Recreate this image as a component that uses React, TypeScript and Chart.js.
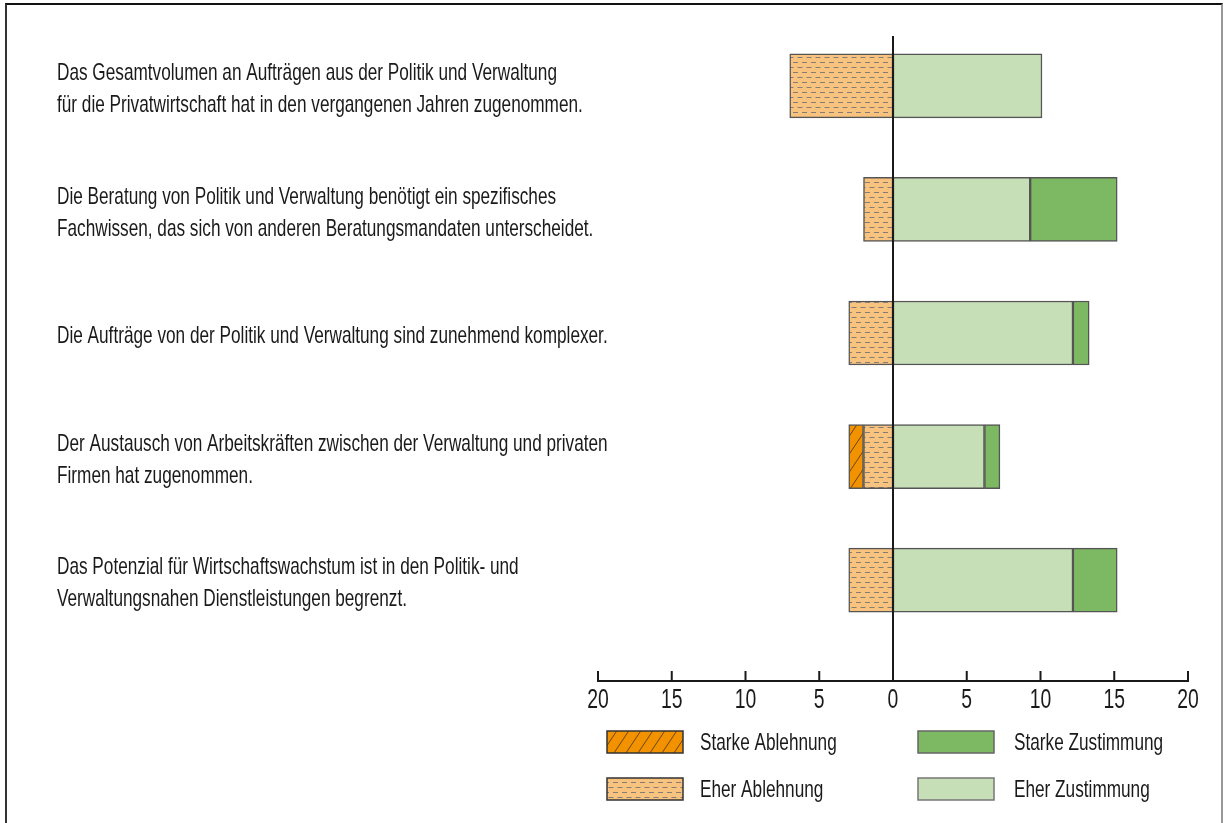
import React, { useEffect, useRef } from "react";
import { Chart, registerables } from "chart.js";

Chart.register(...registerables);

const statements: string[][] = [
  ["Das Gesamtvolumen an Aufträgen aus der Politik und Verwaltung", "für die Privatwirtschaft hat in den vergangenen Jahren zugenommen."],
  ["Die Beratung von Politik und Verwaltung benötigt ein spezifisches", "Fachwissen, das sich von anderen Beratungsmandaten unterscheidet."],
  ["Die Aufträge von der Politik und Verwaltung sind zunehmend komplexer."],
  ["Der Austausch von Arbeitskräften zwischen der Verwaltung und privaten", "Firmen hat zugenommen."],
  ["Das Potenzial für Wirtschaftswachstum ist in den Politik- und", "Verwaltungsnahen Dienstleistungen begrenzt."],
];

const starkeAblehnung = [0, 0, 0, 1, 0];
const eherAblehnung = [7, 2, 3, 2, 3];
const eherZustimmung = [10.1, 9.3, 12.2, 6.2, 12.2];
const starkeZustimmung = [0, 5.9, 1.1, 1.05, 3];

const legendLabels = ["Starke Ablehnung", "Starke Zustimmung", "Eher Ablehnung", "Eher Zustimmung"];

const axisMin = -20;
const axisMax = 20;
const axisStep = 5;

const FONT = "'Liberation Sans', Arial, sans-serif";

function dashPattern(): CanvasPattern {
  const c = document.createElement("canvas");
  c.width = 9;
  c.height = 10;
  const g = c.getContext("2d")!;
  g.fillStyle = "#F8C27F";
  g.fillRect(0, 0, 9, 10);
  g.strokeStyle = "#857c72";
  g.lineWidth = 1;
  g.beginPath();
  g.moveTo(1, 2.5);
  g.lineTo(6, 2.5);
  g.moveTo(5.5, 7.5);
  g.lineTo(9, 7.5);
  g.moveTo(0, 7.5);
  g.lineTo(1.5, 7.5);
  g.stroke();
  return g.createPattern(c, "repeat")!;
}

function hatchPattern(): CanvasPattern {
  const w = 12;
  const h = 18;
  const c = document.createElement("canvas");
  c.width = w;
  c.height = h;
  const g = c.getContext("2d")!;
  g.fillStyle = "#F39200";
  g.fillRect(0, 0, w, h);
  g.strokeStyle = "#6a4512";
  g.lineWidth = 1;
  g.beginPath();
  g.moveTo(0, h);
  g.lineTo(w, 0);
  g.moveTo(-w, h);
  g.lineTo(0, 0);
  g.moveTo(w, h);
  g.lineTo(2 * w, 0);
  g.stroke();
  return g.createPattern(c, "repeat")!;
}

export default function App() {
  const ref = useRef<HTMLCanvasElement>(null);

  useEffect(() => {
    const dash = dashPattern();
    const hatch = hatchPattern();
    const starkeGreen = "#7CB962";
    const eherGreen = "#C7DFB6";
    const textColor = "#1a1a1a";

    // horizontal condensing factor so the sans face looks like the narrow original
    const probe = document.createElement("canvas").getContext("2d")!;
    probe.font = `24px ${FONT}`;
    const SX = 500 / probe.measureText(statements[0][0]).width;

    const drawText = (ctx: CanvasRenderingContext2D, text: string, x: number, y: number, size: number, align: CanvasTextAlign) => {
      ctx.save();
      ctx.font = `${size}px ${FONT}`;
      ctx.fillStyle = textColor;
      ctx.textAlign = align;
      ctx.textBaseline = "middle";
      ctx.translate(x, y);
      ctx.scale(SX, 1);
      ctx.fillText(text, 0, 0);
      ctx.restore();
    };

    const customPlugin = {
      id: "customAxisLegend",
      afterDatasetsDraw(chart: any) {
        const { ctx, chartArea } = chart;
        const x = chart.scales.x;
        const y = chart.scales.y;
        const axisY = chartArea.bottom + 39;
        ctx.save();
        ctx.strokeStyle = "#1a1a1a";
        ctx.lineWidth = 2;
        const x0 = x.getPixelForValue(0);
        ctx.beginPath();
        ctx.moveTo(x0, chartArea.top + 12);
        ctx.lineTo(x0, axisY);
        ctx.stroke();
        ctx.beginPath();
        ctx.moveTo(x.getPixelForValue(axisMin) - 1, axisY);
        ctx.lineTo(x.getPixelForValue(axisMax) + 1, axisY);
        x.ticks.forEach((t: any) => {
          const px = x.getPixelForValue(t.value);
          ctx.moveTo(px, axisY);
          ctx.lineTo(px, axisY - 10);
        });
        ctx.stroke();
        ctx.restore();

        // x tick labels
        x.ticks.forEach((t: any) => {
          const px = x.getPixelForValue(t.value);
          drawText(ctx, String(Math.abs(t.value)), px, axisY + 20, 27, "center");
        });

        // category labels (left-aligned block)
        const labelLeft = y.left;
        statements.forEach((lines, i) => {
          const cy = y.getPixelForValue(i) + 3.5;
          lines.forEach((line, k) => {
            drawText(ctx, line, labelLeft, cy + (k - (lines.length - 1) / 2) * 32, 24, "left");
          });
        });

        // legend
        const leftCol = x.getPixelForValue(-20) + 9;
        const rightCol = x0 + 25;
        const items = [
          { label: legendLabels[0], fill: hatch, border: "#333", bx: leftCol, by: axisY + 50, tx: 93 },
          { label: legendLabels[1], fill: starkeGreen, border: "#666", bx: rightCol, by: axisY + 50, tx: 96 },
          { label: legendLabels[2], fill: dash, border: "#333", bx: leftCol, by: axisY + 97, tx: 93 },
          { label: legendLabels[3], fill: eherGreen, border: "#777", bx: rightCol, by: axisY + 97, tx: 96 },
        ];
        items.forEach((it) => {
          ctx.save();
          ctx.fillStyle = it.fill as any;
          ctx.fillRect(it.bx, it.by, 76, 22);
          ctx.strokeStyle = it.border;
          ctx.lineWidth = 1.5;
          ctx.strokeRect(it.bx, it.by, 76, 22);
          ctx.restore();
          drawText(ctx, it.label, it.bx + it.tx, it.by + 12, 24, "left");
        });
      },
    };

    const common = {
      borderColor: "#555555",
      borderWidth: 1.5,
      borderSkipped: false,
      barThickness: 64,
      stack: "s",
    };

    const chart = new Chart(ref.current!, {
      type: "bar",
      data: {
        labels: statements,
        datasets: [
          { label: "Eher Ablehnung", data: eherAblehnung.map((v) => -v), backgroundColor: dash, ...common },
          { label: "Starke Ablehnung", data: starkeAblehnung.map((v) => -v), backgroundColor: hatch, ...common },
          { label: "Eher Zustimmung", data: eherZustimmung, backgroundColor: eherGreen, ...common },
          { label: "Starke Zustimmung", data: starkeZustimmung, backgroundColor: starkeGreen, ...common },
        ] as any,
      },
      options: {
        indexAxis: "y",
        animation: false,
        responsive: false,
        maintainAspectRatio: false,
        layout: { padding: { left: 57, top: 24, right: 36, bottom: 0 } },
        plugins: {
          legend: { display: false },
          tooltip: { enabled: false },
          title: { display: false },
        },
        scales: {
          x: {
            type: "linear",
            min: axisMin,
            max: axisMax,
            stacked: true,
            grid: { display: false, drawTicks: false },
            border: { display: false },
            afterFit: (s: any) => {
              s.height = 181;
            },
            ticks: { stepSize: axisStep, display: false },
          },
          y: {
            type: "category",
            stacked: true,
            grid: { display: false, drawTicks: false },
            border: { display: false },
            afterFit: (s: any) => {
              s.width = 541;
            },
            ticks: { display: false },
          },
        },
      } as any,
      plugins: [customPlugin],
    });
    return () => chart.destroy();
  }, []);

  return (
    <div style={{ position: "fixed", left: 0, top: 0, width: 1224, height: 823, background: "#fff", overflow: "hidden" }}>
      <div
        style={{
          position: "absolute",
          left: 5,
          top: 3,
          width: 1218,
          height: 900,
          borderTop: "2px solid #111",
          borderLeft: "2px solid #333",
          borderRight: "2px solid #999",
          boxSizing: "border-box",
        }}
      />
      <canvas ref={ref} width={1224} height={823} style={{ position: "absolute", left: 0, top: 0 }} />
    </div>
  );
}
